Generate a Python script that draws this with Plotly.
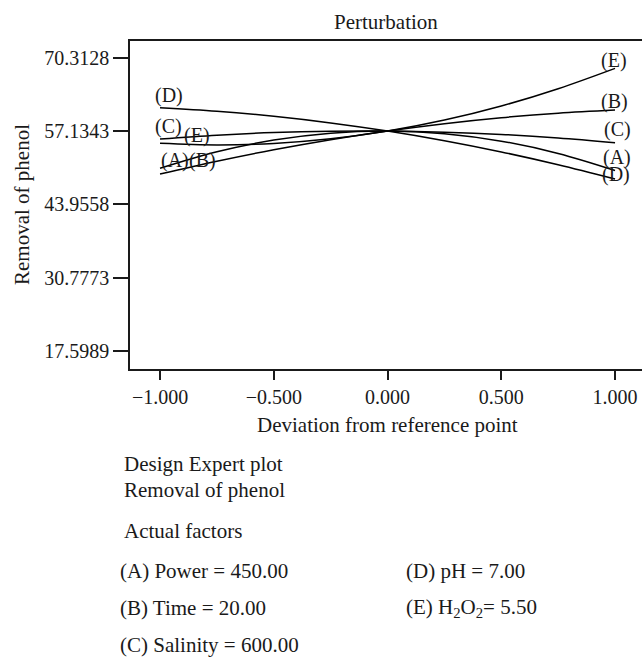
import plotly.graph_objects as go

# ---------------- data ----------------
deviation = [-1.0, -0.75, -0.5, -0.25, 0.0, 0.25, 0.5, 0.75, 1.0]

removal_A = [50.43, 53.40, 55.51, 56.75, 57.13, 56.65, 55.31, 53.10, 50.03]
removal_B = [49.40, 51.70, 53.76, 55.57, 57.13, 58.45, 59.52, 60.34, 60.91]
removal_C = [55.70, 56.39, 56.86, 57.10, 57.13, 56.93, 56.52, 55.88, 55.03]
removal_D = [61.32, 60.69, 59.78, 58.59, 57.13, 55.39, 53.37, 51.07, 48.50]
removal_E = [54.92, 54.63, 54.89, 55.73, 57.13, 59.10, 61.63, 64.74, 68.40]

factor_names = ["A", "B", "C", "D", "E"]
y_tick_values = [17.5989, 30.7773, 43.9558, 57.1343, 70.3128]
y_tick_labels = ["17.5989", "30.7773", "43.9558", "57.1343", "70.3128"]
x_tick_values = [-1.0, -0.5, 0.0, 0.5, 1.0]
x_tick_labels = ["\u22121.000", "\u22120.500", "0.000", "0.500", "1.000"]

title_text = "Perturbation"
x_title = "Deviation from reference point"
y_title = "Removal of phenol"
notes_left = ["Design Expert plot", "Removal of phenol", "Actual factors",
              "(A) Power = 450.00", "(B) Time = 20.00", "(C) Salinity = 600.00"]
notes_right = ["(D) pH = 7.00", "(E) H<sub>2</sub>O<sub>2</sub>= 5.50"]

series = {"A": removal_A, "B": removal_B, "C": removal_C,
          "D": removal_D, "E": removal_E}

# ---------------- styling / layout ----------------
W, H = 642, 658
L, R, T, B = 130, 0, 41, 289
FONT = "Liberation Serif"
FS = 20      # ticks and curve labels
FS_TXT = 21  # titles and notes
INK = "#1a1a1a"

# label offsets (pixels) for the left and right end labels
left_shift = {"A": (15, 8), "B": (42, 14), "C": (8, 12), "D": (9, 12), "E": (37, 8)}
right_shift = {"A": (2, 13), "B": (-1, 9), "C": (2, 13), "D": (1, 5), "E": (-1, 8)}

fig = go.Figure()
for k in factor_names:
    fig.add_trace(go.Scatter(
        x=deviation, y=series[k], mode="lines",
        line=dict(color="black", width=1.5, shape="spline", smoothing=1.0),
        showlegend=False, hoverinfo="skip"))

annotations = []
for k in factor_names:
    ys = series[k]
    dx, dy = left_shift[k]
    annotations.append(dict(x=deviation[0], y=ys[0], xref="x", yref="y",
                            text=f"({k})", showarrow=False,
                            xshift=dx, yshift=dy,
                            font=dict(family=FONT, size=FS, color=INK)))
    dx, dy = right_shift[k]
    annotations.append(dict(x=deviation[-1], y=ys[-1], xref="x", yref="y",
                            text=f"({k})", showarrow=False,
                            xshift=dx, yshift=dy,
                            font=dict(family=FONT, size=FS, color=INK)))

pw = W - L - R
ph = H - T - B


def px(xp):
    return (xp - L) / pw


def py(yp):
    return (H - B - yp) / ph


def txt(text, xp, yp, xanchor="left", angle=0):
    annotations.append(dict(x=px(xp), y=py(yp), xref="paper", yref="paper",
                            text=text, showarrow=False, xanchor=xanchor,
                            yanchor="middle", textangle=angle,
                            font=dict(family=FONT, size=FS_TXT, color=INK)))


txt(title_text, 386, 22, xanchor="center")
txt(x_title, 387, 425, xanchor="center")
txt(y_title, 22, 205, xanchor="center", angle=-90)

left_y = [464, 490, 531, 571, 608, 645]
left_x = [122, 122, 122, 118, 118, 118]
for t, xx, yy in zip(notes_left, left_x, left_y):
    txt(t, xx, yy)
right_y = [571, 608]
for t, yy in zip(notes_right, right_y):
    txt(t, 404, yy)

fig.update_layout(
    width=W, height=H,
    margin=dict(l=L, r=R, t=T, b=B, pad=0),
    paper_bgcolor="white", plot_bgcolor="white",
    font=dict(family=FONT, size=FS, color=INK),
    annotations=annotations,
    xaxis=dict(range=[-1.132, 1.1185], tickvals=x_tick_values,
               ticktext=x_tick_labels, ticks="outside", ticklen=9,
               tickwidth=1.5, tickcolor=INK, showline=True, linecolor=INK,
               linewidth=1.5, mirror=True, showgrid=False, zeroline=False,
               tickfont=dict(family=FONT, size=FS, color=INK)),
    yaxis=dict(range=[14.344, 73.315], tickvals=y_tick_values,
               ticktext=y_tick_labels, ticks="outside", ticklen=15,
               tickwidth=1.5, tickcolor=INK, showline=True, linecolor=INK,
               linewidth=1.5, mirror=False, showgrid=False, zeroline=False,
               tickfont=dict(family=FONT, size=FS, color=INK)),
)

fig.write_html("out.html")
